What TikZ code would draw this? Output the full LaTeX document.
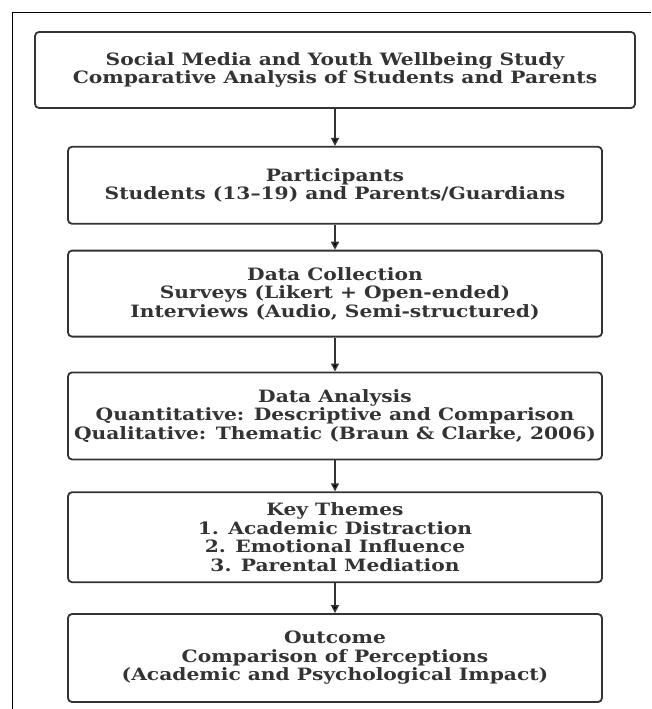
\documentclass[tikz,border=0pt]{standalone}
\usepackage{fontspec}
\setmainfont{DejaVu Serif}[FakeStretch=1.19]
\usetikzlibrary{positioning, arrows.meta}

\definecolor{boxgray}{HTML}{333333}

\begin{document}
\begin{tikzpicture}[x=1pt, y=1pt, >={Stealth[length=8pt, width=8pt, inset=0pt]}, node distance=30pt,
    stage/.style={draw=boxgray, line width=1.8pt, rounded corners=4pt, align=center, text=boxgray,
        font=\bfseries\fontsize{17}{18.5}\selectfont, minimum width=534pt, inner sep=0pt}]
    \useasboundingbox (0,0) rectangle (651,-709);
    % frame of the page
    \draw[line width=1pt] (651,-13) -- (12,-13) -- (12,-709);

    \node[stage, minimum width=600pt, minimum height=76pt] (study) at (335,-70)
        {Social Media and Youth Wellbeing Study \\ Comparative Analysis of Students and Parents};
    \node[stage, minimum height=77pt] (participants) [below=37pt of study]
        {Participants \\ Students (13--19) and Parents/Guardians};
    \node[stage, minimum height=86pt] (collection) [below=25pt of participants]
        {Data Collection \\ Surveys (Likert + Open-ended) \\ Interviews (Audio, Semi-structured)};
    \node[stage, minimum height=87pt] (analysis) [below=34pt of collection]
        {Data Analysis \\ Quantitative: Descriptive and Comparison \\ Qualitative: Thematic (Braun \& Clarke, 2006)};
    \node[stage, minimum height=90pt] (themes) [below=31pt of analysis]
        {Key Themes \\ 1. Academic Distraction \\ 2. Emotional Influence \\ 3. Parental Mediation};
    \node[stage, minimum height=88pt] (outcome) [below=30pt of themes]
        {Outcome \\ Comparison of Perceptions \\ (Academic and Psychological Impact)};

    \path[->, draw=boxgray, line width=1.5pt]
        (study) edge (participants)
        (participants) edge (collection)
        (collection) edge (analysis)
        (analysis) edge (themes)
        (themes) edge (outcome);
\end{tikzpicture}
\end{document}
